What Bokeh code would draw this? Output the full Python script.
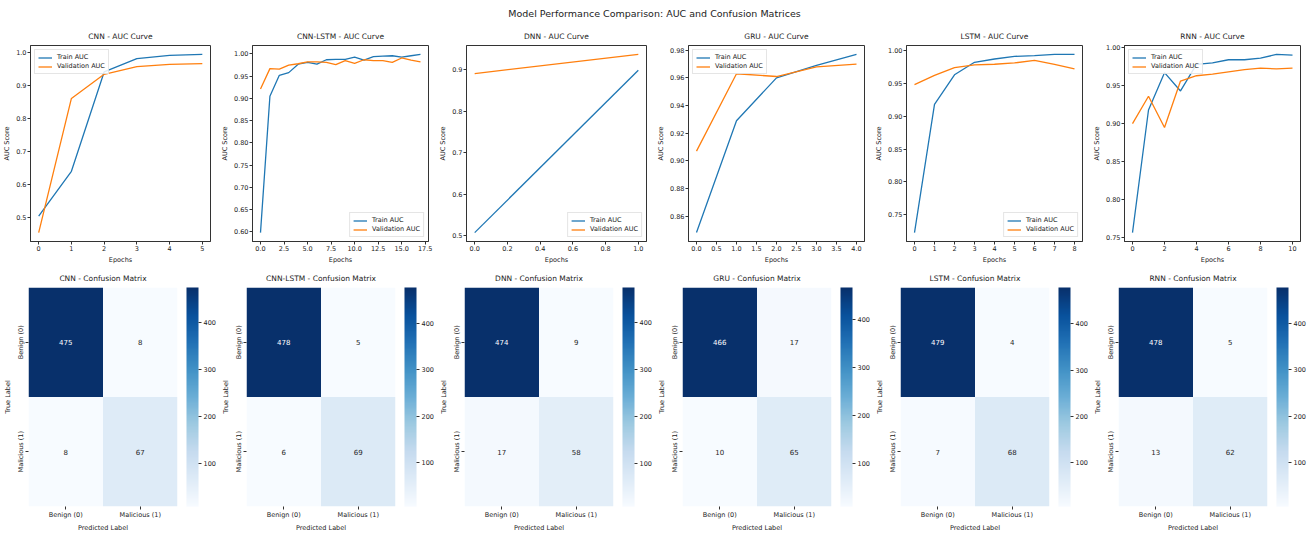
from bokeh.plotting import figure
from bokeh.layouts import column, row
from bokeh.models import (Range1d, FixedTicker, NumeralTickFormatter, Legend, LegendItem,
                          LinearColorMapper, ColorBar, ColumnDataSource, FactorRange)
from bokeh.core.properties import value
from bokeh.palettes import Blues256
from bokeh.embed import file_html
from bokeh.resources import INLINE

FONT = "DejaVu Sans"

models = ["CNN", "CNN-LSTM", "DNN", "GRU", "LSTM", "RNN"]

cnn_train = [0.505, 0.640, 0.940, 0.980, 0.990, 0.993]
cnn_val = [0.455, 0.860, 0.933, 0.956, 0.963, 0.965]
cnnlstm_train = [0.598, 0.905, 0.952, 0.958, 0.977, 0.981, 0.977, 0.987, 0.988, 0.988,
                 0.993, 0.986, 0.994, 0.995, 0.996, 0.993, 0.996, 0.999]
cnnlstm_val = [0.921, 0.967, 0.966, 0.975, 0.978, 0.982, 0.982, 0.981, 0.976, 0.985,
               0.979, 0.987, 0.985, 0.985, 0.981, 0.991, 0.986, 0.982]
dnn_train = [0.508, 0.898]
dnn_val = [0.890, 0.936]
gru_train = [0.848, 0.929, 0.960, 0.969, 0.977]
gru_val = [0.907, 0.963, 0.961, 0.968, 0.970]
lstm_train = [0.723, 0.918, 0.963, 0.982, 0.987, 0.991, 0.992, 0.994, 0.994]
lstm_val = [0.948, 0.962, 0.974, 0.978, 0.979, 0.981, 0.985, 0.979, 0.972]
rnn_train = [0.757, 0.918, 0.967, 0.943, 0.978, 0.980, 0.984, 0.984, 0.986, 0.991, 0.990]
rnn_val = [0.900, 0.936, 0.895, 0.956, 0.963, 0.965, 0.968, 0.971, 0.973, 0.972, 0.973]

train_series = [cnn_train, cnnlstm_train, dnn_train, gru_train, lstm_train, rnn_train]
val_series = [cnn_val, cnnlstm_val, dnn_val, gru_val, lstm_val, rnn_val]

x_ticks = [
    [0, 1, 2, 3, 4, 5],
    [0.0, 2.5, 5.0, 7.5, 10.0, 12.5, 15.0, 17.5],
    [0.0, 0.2, 0.4, 0.6, 0.8, 1.0],
    [0.0, 0.5, 1.0, 1.5, 2.0, 2.5, 3.0, 3.5, 4.0],
    [0, 1, 2, 3, 4, 5, 6, 7, 8],
    [0, 2, 4, 6, 8, 10],
]
x_fmt = ["0", "0.0", "0.0", "0.0", "0", "0"]
y_ticks = [
    [0.5, 0.6, 0.7, 0.8, 0.9, 1.0],
    [0.60, 0.65, 0.70, 0.75, 0.80, 0.85, 0.90, 0.95, 1.00],
    [0.5, 0.6, 0.7, 0.8, 0.9],
    [0.86, 0.88, 0.90, 0.92, 0.94, 0.96, 0.98],
    [0.75, 0.80, 0.85, 0.90, 0.95, 1.00],
    [0.75, 0.80, 0.85, 0.90, 0.95, 1.00],
]
y_fmt = ["0.0", "0.00", "0.0", "0.00", "0.00", "0.00"]
legend_loc = ["top_left", "bottom_right", "bottom_right", "top_left", "bottom_right", "top_left"]

classes = ["Benign (0)", "Malicious (1)"]
cm_cnn = [[475, 8], [8, 67]]
cm_cnnlstm = [[478, 5], [6, 69]]
cm_dnn = [[474, 9], [17, 58]]
cm_gru = [[466, 17], [10, 65]]
cm_lstm = [[479, 4], [7, 68]]
cm_rnn = [[478, 5], [13, 62]]
matrices = [cm_cnn, cm_cnnlstm, cm_dnn, cm_gru, cm_lstm, cm_rnn]
cbar_ticks = [100, 200, 300, 400]

BLUE = "#1f77b4"
ORANGE = "#ff7f0e"
TXT = "#222222"
COLW = 218


def style_axes(p, ticksize="6.5px"):
    p.grid.visible = False
    for ax in (p.xaxis[0], p.yaxis[0]):
        ax.major_tick_in = 0
        ax.major_tick_out = 3
        ax.minor_tick_line_color = None
        ax.major_label_text_font = FONT
        ax.major_label_text_font_size = ticksize
        ax.major_label_text_color = TXT
        ax.axis_label_text_font = FONT
        ax.axis_label_text_font_size = "6.5px"
        ax.axis_label_text_font_style = "normal"
        ax.axis_label_text_color = TXT
        ax.major_label_standoff = 1
        ax.axis_label_standoff = 2
        ax.axis_line_color = "#333333"
        ax.major_tick_line_color = "#333333"
    p.title.text_font = FONT
    p.title.text_font_size = "7.5px"
    p.title.text_font_style = "normal"
    p.title.text_color = TXT
    p.title.align = "center"


def pad_range(vals, frac=0.05):
    lo, hi = min(vals), max(vals)
    span = hi - lo
    return Range1d(lo - frac * span, hi + frac * span)


top_figs = []
for i, name in enumerate(models):
    tr = train_series[i]
    va = val_series[i]
    ep = list(range(len(tr)))
    p = figure(width=COLW, frame_height=196, output_backend="svg", toolbar_location=None,
               title=f"{name} - AUC Curve",
               x_range=pad_range(ep), y_range=pad_range(tr + va),
               min_border_left=22, min_border_right=8, min_border_top=6, min_border_bottom=0)
    style_axes(p)
    p.outline_line_color = "#333333"
    p.xaxis.axis_label = "Epochs"
    p.yaxis.axis_label = "AUC Score"
    p.xaxis.ticker = FixedTicker(ticks=x_ticks[i])
    p.yaxis.ticker = FixedTicker(ticks=y_ticks[i])
    p.xaxis.formatter = NumeralTickFormatter(format=x_fmt[i])
    p.yaxis.formatter = NumeralTickFormatter(format=y_fmt[i])
    r1 = p.line(ep, tr, line_color=BLUE, line_width=1.3)
    r2 = p.line(ep, va, line_color=ORANGE, line_width=1.3)
    leg = Legend(items=[LegendItem(label="Train AUC", renderers=[r1]),
                        LegendItem(label="Validation AUC", renderers=[r2])],
                 location=legend_loc[i])
    leg.label_text_font = FONT
    leg.label_text_font_size = "6.5px"
    leg.label_text_color = TXT
    leg.glyph_width = 14
    leg.glyph_height = 7
    leg.label_height = 7
    leg.spacing = 1
    leg.padding = 3
    leg.margin = 4
    leg.label_standoff = 5
    leg.border_line_color = "#cccccc"
    leg.background_fill_alpha = 0.85
    p.add_layout(leg)
    top_figs.append(p)

palette = list(reversed(Blues256))
bottom_figs = []
for i, name in enumerate(models):
    m = matrices[i]
    flat = [v for rowv in m for v in rowv]
    vmin, vmax = min(flat), max(flat)
    mapper = LinearColorMapper(palette=palette, low=vmin, high=vmax)
    xs, ys, vals, labels, tcs = [], [], [], [], []
    for r_i, true_lab in enumerate(classes):
        for c_i, pred_lab in enumerate(classes):
            v = m[r_i][c_i]
            xs.append(pred_lab)
            ys.append(true_lab)
            vals.append(v)
            labels.append(str(v))
            tcs.append("white" if v > (vmin + vmax) / 2 else "#262626")
    src = ColumnDataSource(dict(x=xs, y=ys, v=vals, label=labels, tc=tcs))
    p = figure(width=COLW, frame_height=219, output_backend="svg", toolbar_location=None,
               title=f"{name} - Confusion Matrix",
               x_range=FactorRange(*classes), y_range=FactorRange(*reversed(classes)),
               min_border_left=20, min_border_right=14, min_border_top=2, min_border_bottom=0)
    style_axes(p)
    p.outline_line_color = None
    p.xaxis.axis_line_color = None
    p.yaxis.axis_line_color = None
    p.xaxis.axis_label = "Predicted Label"
    p.yaxis.axis_label = "True Label"
    p.yaxis.major_label_orientation = "vertical"
    p.x_range.range_padding = 0
    p.y_range.range_padding = 0
    p.rect(x="x", y="y", width=1, height=1, source=src,
           fill_color={"field": "v", "transform": mapper}, line_color=None)
    p.text(x="x", y="y", text="label", source=src, text_align="center",
           text_baseline="middle", text_font=value(FONT), text_font_size=value("7px"),
           text_color="tc")
    cb = ColorBar(color_mapper=mapper, ticker=FixedTicker(ticks=cbar_ticks),
                  width=12, padding=0, margin=0, location=(9, 0),
                  major_tick_in=0, major_tick_out=3,
                  major_tick_line_color="#333333", bar_line_color=None,
                  border_line_color=None, background_fill_alpha=0,
                  major_label_text_font=FONT, major_label_text_font_size="6.5px",
                  major_label_text_color=TXT, label_standoff=2)
    p.add_layout(cb, "right")
    bottom_figs.append(p)

title_fig = figure(width=COLW * 6, height=24, output_backend="svg", toolbar_location=None,
                   title="Model Performance Comparison: AUC and Confusion Matrices",
                   min_border=0, min_border_top=4)
title_fig.axis.visible = False
title_fig.grid.visible = False
title_fig.outline_line_color = None
title_fig.title.align = "center"
title_fig.title.text_font = FONT
title_fig.title.text_font_size = "9.5px"
title_fig.title.text_font_style = "normal"
title_fig.title.text_color = TXT
title_fig.title.offset = 6

layout = column(title_fig, row(*top_figs, spacing=0), row(*bottom_figs, spacing=0), spacing=0)
open("out.html", "w").write(file_html(layout, INLINE))
